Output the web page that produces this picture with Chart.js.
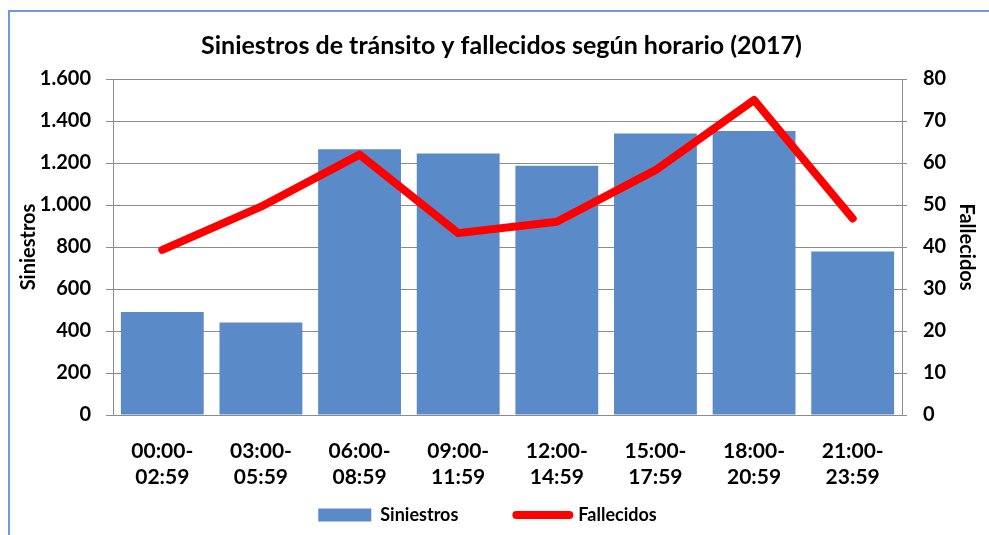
<!DOCTYPE html>
<html>
<head>
<meta charset="utf-8">
<script src="https://cdn.jsdelivr.net/npm/chart.js@4"></script>
<style>
    html, body { margin: 0; padding: 0; background: #ffffff; overflow: hidden; }
    #frame {
        position: absolute; left: 8px; top: 10px; width: 1000px; height: 560px;
        border: 2px solid #6f9bd6; box-sizing: border-box;
    }
    #chart { position: absolute; left: 0; top: 0; }
</style>
</head>
<body>
<div id="frame"></div>
<canvas id="chart" width="989" height="535"></canvas>
<script>
const horarios = [
    ["00:00-", "02:59"], ["03:00-", "05:59"], ["06:00-", "08:59"], ["09:00-", "11:59"],
    ["12:00-", "14:59"], ["15:00-", "17:59"], ["18:00-", "20:59"], ["21:00-", "23:59"]
];
const siniestros = [490, 440, 1265, 1245, 1187, 1340, 1352, 778];
const fallecidos = [39.3, 49.6, 62, 43.3, 46, 58.3, 75, 46.8];
const siniestrosTicks = [0, 200, 400, 600, 800, 1000, 1200, 1400, 1600];
const fallecidosTicks = [0, 10, 20, 30, 40, 50, 60, 70, 80];

const FONT = "Lato, 'Open Sans', sans-serif";
const GRID = "#8c8c8c";

function formatMiles(value) {
    return value.toLocaleString("de-DE");
}

// la leyenda usa un padding grande para separar los items; la subimos y corremos despues del layout
const moverLeyenda = {
    id: "moverLeyenda",
    afterLayout(chart) {
        const legend = chart.legend;
        legend.top -= 42;
        legend.left -= 14;
        legend.right -= 14;
    }
};

new Chart(document.getElementById("chart"), {
    data: {
        labels: horarios,
        datasets: [
            {
                type: "line",
                label: "Fallecidos",
                data: fallecidos,
                yAxisID: "yFallecidos",
                borderColor: "#ff0000",
                backgroundColor: "#ff0000",
                borderWidth: 8,
                pointRadius: 0,
                tension: 0,
                borderCapStyle: "round",
                borderJoinStyle: "round",
                order: 0
            },
            {
                type: "bar",
                label: "Siniestros",
                data: siniestros,
                yAxisID: "ySiniestros",
                backgroundColor: "#5a8ac8",
                categoryPercentage: 1,
                barPercentage: 0.84,
                order: 1
            }
        ]
    },
    plugins: [moverLeyenda],
    options: {
        responsive: false,
        animation: false,
        layout: { padding: { left: 22, right: 8, top: 20, bottom: 0 } },
        plugins: {
            title: {
                display: true,
                text: "Siniestros de tránsito y fallecidos según horario (2017)",
                color: "#000000",
                font: { family: FONT, size: 25, weight: "bold" },
                padding: { top: 11, bottom: 18 }
            },
            legend: {
                position: "bottom",
                reverse: true,
                maxHeight: 45,
                labels: {
                    color: "#000000",
                    font: { family: FONT, size: 18, weight: "bold" },
                    usePointStyle: true,
                    pointStyleWidth: 53,
                    boxHeight: 13,
                    padding: 58,
                    generateLabels(chart) {
                        return chart.data.datasets.map((ds, i) => {
                            const esLinea = ds.type === "line";
                            return {
                                text: ds.label,
                                fillStyle: ds.backgroundColor,
                                strokeStyle: ds.borderColor || ds.backgroundColor,
                                lineWidth: esLinea ? 8 : 0,
                                lineCap: "round",
                                pointStyle: esLinea ? "line" : "rect",
                                fontColor: "#000000",
                                datasetIndex: i,
                                hidden: false
                            };
                        });
                    }
                }
            },
            tooltip: { enabled: false }
        },
        scales: {
            x: {
                grid: { display: false, drawTicks: false },
                border: { color: GRID, width: 1 },
                ticks: {
                    color: "#000000",
                    font: { family: FONT, size: 21, weight: "bold", lineHeight: 1.25 },
                    padding: 23,
                    maxRotation: 0
                },
                afterFit(scale) {
                    scale.height = 75;
                }
            },
            ySiniestros: {
                position: "left",
                min: 0,
                max: 1600,
                afterBuildTicks(scale) {
                    scale.ticks = siniestrosTicks.map(v => ({ value: v }));
                },
                afterFit(scale) {
                    scale.width = 91;
                },
                grid: { color: GRID, tickLength: 7, tickColor: GRID },
                border: { color: GRID, width: 1 },
                ticks: {
                    color: "#000000",
                    font: { family: FONT, size: 20, weight: "bold" },
                    padding: 15,
                    callback: value => formatMiles(value)
                },
                title: {
                    display: true,
                    text: "Siniestros",
                    color: "#000000",
                    font: { family: FONT, size: 20, weight: "bold" },
                    padding: { top: -5, bottom: 4 }
                }
            },
            yFallecidos: {
                position: "right",
                min: 0,
                max: 80,
                afterBuildTicks(scale) {
                    scale.ticks = fallecidosTicks.map(v => ({ value: v }));
                },
                afterFit(scale) {
                    scale.width = 79;
                },
                grid: { drawOnChartArea: false, color: GRID, tickLength: 5, tickColor: GRID },
                border: { color: GRID, width: 1 },
                ticks: {
                    color: "#000000",
                    font: { family: FONT, size: 20, weight: "bold" },
                    padding: 16
                },
                title: {
                    display: true,
                    text: "Fallecidos",
                    color: "#000000",
                    font: { family: FONT, size: 20, weight: "bold" },
                    padding: { top: 3, bottom: 4 }
                }
            }
        }
    }
});
</script>
</body>
</html>
